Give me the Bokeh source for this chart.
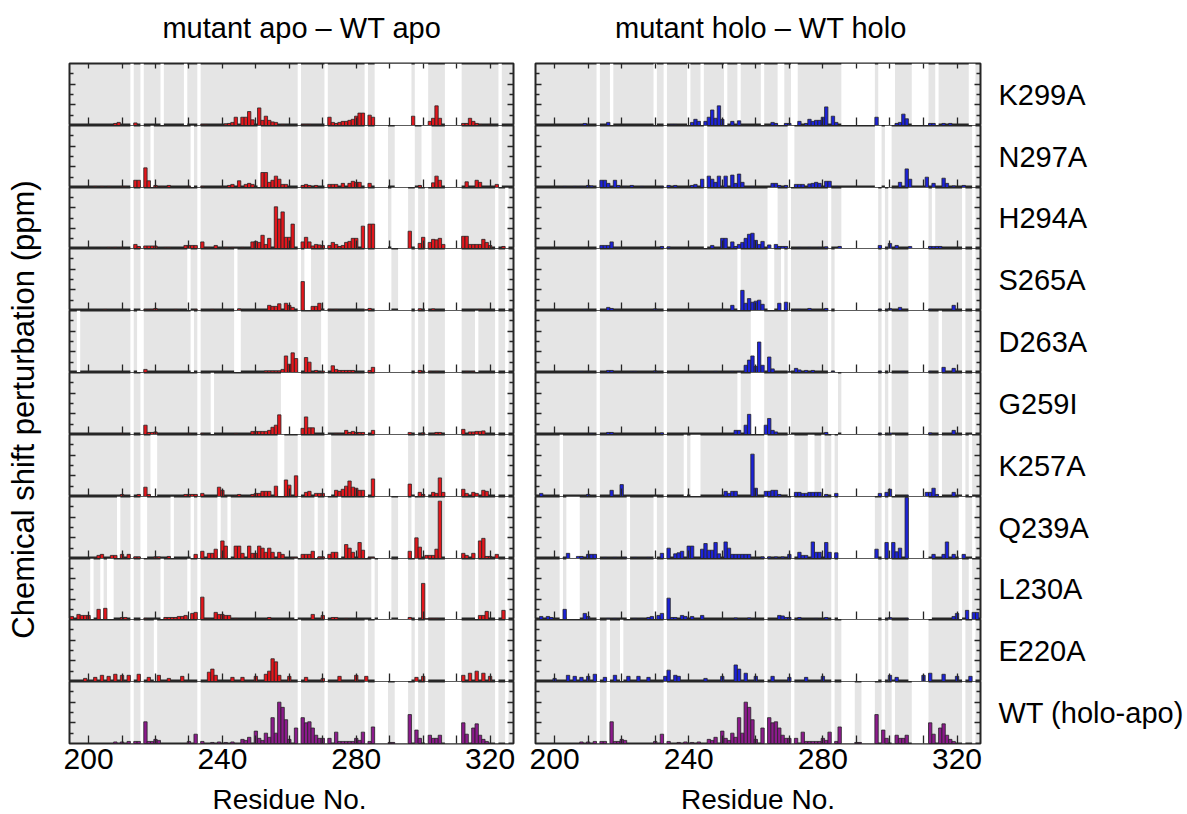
from bokeh.plotting import figure
from bokeh.layouts import row, column
from bokeh.models import Range1d, FixedTicker, LinearAxis, Label
from bokeh.embed import file_html
from bokeh.resources import INLINE

FONT = "Liberation Sans"
X0, X1 = 194.3, 327.0
Y1 = 0.6

ROW_NAMES = ["K299A", "N297A", "H294A", "S265A", "D263A", "G259I",
             "K257A", "Q239A", "L230A", "E220A", "WT (holo-apo)"]
COL_TITLES = ["mutant apo \u2013 WT apo", "mutant holo \u2013 WT holo"]
X_LABEL_TICKS = [200, 240, 280, 320]
X_MINOR_TICKS = [210, 220, 230, 250, 260, 270, 290, 300, 310]
Y_MAJOR = [0.2, 0.4]
Y_MINOR = [0.1, 0.3, 0.5]

# ---------------- apo differences (left column) ----------------
APO_K299A = {208: 0.02, 209: 0.03, 214: 0.025, 234: 0.01, 235: 0.01, 241: 0.015, 242: 0.02, 243: 0.03,
             244: 0.08, 246: 0.08, 247: 0.08, 248: 0.135, 249: 0.055, 251: 0.17, 252: 0.05, 253: 0.09,
             254: 0.05, 255: 0.035, 256: 0.03, 258: 0.01, 264: 0.01, 265: 0.01, 266: 0.01, 272: 0.08,
             273: 0.03, 274: 0.02, 275: 0.03, 276: 0.04, 277: 0.04, 278: 0.05, 279: 0.06, 280: 0.09,
             281: 0.12, 282: 0.12, 284: 0.1, 285: 0.08, 297: 0.09, 302: 0.04, 303: 0.07, 304: 0.19,
             305: 0.07, 312: 0.02, 313: 0.02, 314: 0.07, 315: 0.04, 316: 0.02, 317: 0.01, 320: 0.01}
APO_N297A = {202: 0.01, 204: 0.01, 206: 0.01, 210: 0.01, 211: 0.01, 214: 0.07, 215: 0.07, 217: 0.19,
             218: 0.065, 220: 0.02, 222: 0.01, 224: 0.02, 230: 0.01, 234: 0.01, 240: 0.01, 242: 0.02,
             243: 0.03, 245: 0.065, 247: 0.03, 248: 0.04, 249: 0.03, 252: 0.145, 253: 0.145, 254: 0.05,
             255: 0.07, 256: 0.11, 257: 0.08, 258: 0.03, 259: 0.03, 264: 0.02, 265: 0.03, 266: 0.02,
             268: 0.02, 272: 0.03, 273: 0.03, 274: 0.03, 276: 0.04, 278: 0.04, 279: 0.06, 280: 0.05,
             281: 0.05, 284: 0.04, 299: 0.02, 303: 0.045, 304: 0.11, 305: 0.07, 313: 0.055, 316: 0.07,
             317: 0.05, 322: 0.03}
APO_H294A = {203: 0.005, 206: 0.01, 208: 0.01, 210: 0.01, 214: 0.04, 215: 0.02, 217: 0.025, 218: 0.025,
             219: 0.025, 220: 0.025, 223: 0.01, 224: 0.01, 229: 0.03, 230: 0.03, 231: 0.03, 232: 0.03,
             234: 0.065, 235: 0.01, 236: 0.01, 238: 0.03, 241: 0.01, 243: 0.01, 246: 0.01, 249: 0.065,
             250: 0.07, 251: 0.06, 252: 0.13, 253: 0.04, 254: 0.1, 256: 0.41, 257: 0.29, 258: 0.36,
             259: 0.11, 260: 0.11, 261: 0.24, 264: 0.065, 265: 0.11, 266: 0.065, 267: 0.025, 268: 0.04,
             269: 0.035, 270: 0.03, 272: 0.03, 273: 0.06, 274: 0.04, 275: 0.02, 276: 0.03, 277: 0.06,
             278: 0.07, 279: 0.1, 280: 0.1, 282: 0.22, 284: 0.24, 285: 0.24, 296: 0.17, 299: 0.05,
             300: 0.11, 302: 0.06, 303: 0.09, 304: 0.085, 305: 0.1, 306: 0.04, 312: 0.12, 313: 0.12,
             314: 0.04, 315: 0.04, 316: 0.04, 317: 0.04, 318: 0.09, 319: 0.06, 320: 0.03, 324: 0.02}
APO_S265A = {205: 0.01, 217: 0.01, 218: 0.01, 219: 0.01, 220: 0.02, 226: 0.01, 232: 0.01, 237: 0.01,
             245: 0.015, 254: 0.05, 255: 0.04, 256: 0.04, 257: 0.065, 259: 0.07, 260: 0.05, 261: 0.03,
             264: 0.28, 267: 0.04, 268: 0.04, 269: 0.07, 272: 0.01, 274: 0.01, 283: 0.01, 284: 0.02,
             299: 0.015, 303: 0.015, 317: 0.01}
APO_D263A = {217: 0.03, 253: 0.015, 254: 0.015, 255: 0.015, 256: 0.015, 257: 0.015, 258: 0.03,
             259: 0.16, 260: 0.08, 261: 0.19, 262: 0.135, 265: 0.145, 266: 0.1, 268: 0.02, 270: 0.015,
             273: 0.065, 274: 0.03, 275: 0.02, 276: 0.02, 277: 0.02, 278: 0.02, 279: 0.02, 284: 0.02,
             285: 0.05, 299: 0.02, 300: 0.01, 302: 0.01, 304: 0.01, 313: 0.01, 315: 0.01}
APO_G259I = {210: 0.01, 217: 0.09, 218: 0.02, 219: 0.02, 220: 0.025, 230: 0.01, 234: 0.01, 244: 0.01,
             249: 0.03, 250: 0.03, 251: 0.03, 252: 0.03, 253: 0.03, 254: 0.04, 255: 0.07, 256: 0.09,
             257: 0.19, 264: 0.06, 265: 0.17, 266: 0.065, 267: 0.065, 274: 0.01, 275: 0.01, 277: 0.04,
             278: 0.02, 279: 0.03, 280: 0.02, 281: 0.02, 282: 0.02, 285: 0.04, 296: 0.02, 300: 0.015,
             303: 0.01, 304: 0.02, 305: 0.02, 312: 0.05, 314: 0.025, 315: 0.025, 316: 0.03, 317: 0.03,
             318: 0.035}
APO_K257A = {210: 0.02, 215: 0.02, 217: 0.09, 218: 0.02, 229: 0.02, 230: 0.02, 231: 0.02, 232: 0.02,
             234: 0.03, 239: 0.09, 240: 0.06, 244: 0.01, 245: 0.02, 249: 0.02, 250: 0.03, 251: 0.03,
             252: 0.05, 253: 0.05, 254: 0.05, 256: 0.1, 259: 0.16, 260: 0.11, 262: 0.2, 265: 0.04,
             266: 0.05, 268: 0.03, 269: 0.03, 270: 0.03, 274: 0.06, 275: 0.05, 276: 0.07, 277: 0.1,
             278: 0.15, 279: 0.09, 280: 0.08, 281: 0.06, 282: 0.06, 285: 0.17, 296: 0.12, 299: 0.04,
             300: 0.02, 303: 0.04, 304: 0.03, 305: 0.18, 306: 0.04, 312: 0.07, 313: 0.03, 315: 0.04,
             316: 0.03, 318: 0.06, 319: 0.05}
APO_Q239A = {202: 0.01, 203: 0.03, 204: 0.04, 207: 0.03, 208: 0.03, 210: 0.04, 212: 0.04, 214: 0.015,
             215: 0.015, 220: 0.015, 221: 0.015, 224: 0.02, 232: 0.04, 234: 0.07, 236: 0.05, 237: 0.05,
             238: 0.09, 240: 0.17, 241: 0.12, 244: 0.12, 245: 0.12, 246: 0.05, 248: 0.12, 249: 0.05,
             250: 0.05, 251: 0.12, 252: 0.1, 253: 0.06, 254: 0.1, 255: 0.06, 257: 0.06, 258: 0.04,
             261: 0.01, 262: 0.01, 264: 0.04, 265: 0.04, 266: 0.04, 267: 0.07, 269: 0.015, 270: 0.015,
             272: 0.04, 273: 0.06, 274: 0.06, 277: 0.135, 278: 0.1, 279: 0.06, 281: 0.155, 282: 0.08,
             284: 0.01, 285: 0.01, 296: 0.07, 298: 0.2, 299: 0.11, 301: 0.03, 302: 0.03, 303: 0.03,
             304: 0.09, 305: 0.555, 312: 0.05, 313: 0.03, 315: 0.05, 317: 0.17, 318: 0.195, 319: 0.02,
             320: 0.02, 322: 0.04}
APO_L230A = {195: 0.03, 197: 0.05, 198: 0.04, 199: 0.04, 200: 0.04, 203: 0.1, 205: 0.11, 210: 0.02,
             211: 0.02, 217: 0.01, 223: 0.02, 224: 0.02, 225: 0.02, 226: 0.02, 227: 0.03, 228: 0.03,
             229: 0.04, 231: 0.06, 232: 0.07, 234: 0.22, 235: 0.01, 236: 0.01, 238: 0.07, 239: 0.05,
             240: 0.05, 241: 0.04, 242: 0.04, 244: 0.01, 254: 0.02, 267: 0.05, 270: 0.04, 273: 0.02,
             274: 0.02, 277: 0.01, 296: 0.02, 300: 0.355, 301: 0.01, 302: 0.01, 303: 0.01, 304: 0.01,
             317: 0.04, 318: 0.04, 319: 0.08, 324: 0.09}
APO_E220A = {199: 0.03, 202: 0.04, 204: 0.06, 206: 0.05, 208: 0.07, 210: 0.06, 212: 0.06, 215: 0.07,
             218: 0.04, 221: 0.06, 224: 0.03, 228: 0.05, 236: 0.09, 237: 0.12, 238: 0.06, 243: 0.04,
             246: 0.04, 250: 0.05, 253: 0.07, 254: 0.1, 255: 0.22, 256: 0.19, 257: 0.06, 260: 0.05,
             265: 0.04, 270: 0.03, 275: 0.05, 280: 0.06, 283: 0.05, 298: 0.04, 300: 0.05, 312: 0.06,
             314: 0.08, 316: 0.1, 318: 0.08, 320: 0.05}
WT_HOLO_APO = {208: 0.015, 210: 0.015, 212: 0.02, 214: 0.02, 215: 0.02, 217: 0.21, 218: 0.02, 219: 0.02,
               220: 0.04, 221: 0.03, 230: 0.02, 232: 0.09, 234: 0.02, 237: 0.01, 239: 0.015, 241: 0.01,
               243: 0.015, 246: 0.04, 247: 0.03, 248: 0.06, 250: 0.12, 251: 0.05, 252: 0.03, 253: 0.1,
               254: 0.06, 255: 0.25, 256: 0.1, 257: 0.4, 258: 0.35, 259: 0.23, 260: 0.04, 262: 0.15,
               264: 0.25, 265: 0.2, 266: 0.21, 267: 0.15, 268: 0.08, 269: 0.05, 270: 0.05, 272: 0.05,
               274: 0.11, 275: 0.02, 276: 0.02, 277: 0.02, 278: 0.02, 279: 0.02, 280: 0.05, 281: 0.03,
               282: 0.11, 284: 0.02, 285: 0.16, 290: 0.01, 291: 0.01, 296: 0.28, 298: 0.13, 299: 0.05,
               302: 0.08, 303: 0.05, 304: 0.05, 305: 0.08, 312: 0.2, 313: 0.09, 315: 0.15, 316: 0.19,
               317: 0.08, 318: 0.04, 319: 0.02}

# ---------------- holo differences (right column) ----------------
HOLO_K299A = {208: 0.01, 209: 0.02, 210: 0.01, 216: 0.03, 229: 0.005, 235: 0.01, 236: 0.01, 241: 0.03,
              242: 0.06, 243: 0.04, 245: 0.04, 246: 0.08, 247: 0.15, 248: 0.07, 249: 0.19, 250: 0.06,
              253: 0.04, 255: 0.045, 265: 0.03, 266: 0.02, 269: 0.02, 270: 0.02, 273: 0.04, 275: 0.02,
              276: 0.06, 277: 0.04, 278: 0.05, 279: 0.05, 280: 0.08, 281: 0.18, 283: 0.09, 284: 0.03,
              296: 0.08, 302: 0.02, 303: 0.03, 304: 0.11, 305: 0.065, 312: 0.02, 313: 0.02, 316: 0.02,
              318: 0.02}
HOLO_N297A = {203: 0.01, 206: 0.01, 208: 0.01, 210: 0.02, 211: 0.015, 214: 0.07, 215: 0.07, 216: 0.04,
              218: 0.07, 219: 0.02, 221: 0.01, 223: 0.02, 226: 0.01, 232: 0.01, 234: 0.02, 236: 0.02,
              241: 0.02, 242: 0.03, 244: 0.08, 246: 0.11, 247: 0.08, 248: 0.05, 249: 0.11, 251: 0.11,
              253: 0.12, 254: 0.04, 255: 0.13, 256: 0.05, 259: 0.01, 265: 0.04, 266: 0.04, 267: 0.02,
              269: 0.02, 272: 0.03, 273: 0.03, 274: 0.03, 276: 0.035, 277: 0.04, 278: 0.05, 279: 0.04,
              281: 0.06, 282: 0.06, 284: 0.01, 303: 0.05, 305: 0.18, 306: 0.08, 311: 0.1, 313: 0.04,
              316: 0.09, 317: 0.04, 319: 0.015, 322: 0.02}
HOLO_H294A = {214: 0.03, 215: 0.03, 216: 0.03, 217: 0.065, 218: 0.01, 219: 0.01, 232: 0.02, 234: 0.015,
              247: 0.03, 250: 0.1, 251: 0.1, 253: 0.065, 254: 0.02, 255: 0.04, 256: 0.06, 257: 0.1,
              258: 0.14, 259: 0.15, 260: 0.08, 261: 0.04, 262: 0.07, 264: 0.035, 266: 0.04, 267: 0.02,
              268: 0.02, 269: 0.02, 273: 0.01, 276: 0.01, 279: 0.01, 281: 0.015, 285: 0.02, 297: 0.03,
              300: 0.05, 302: 0.03, 306: 0.02, 312: 0.02, 313: 0.02, 314: 0.02, 315: 0.02}
HOLO_S265A = {209: 0.01, 216: 0.03, 217: 0.02, 230: 0.015, 250: 0.01, 253: 0.05, 256: 0.195, 257: 0.07,
              258: 0.115, 259: 0.08, 260: 0.09, 261: 0.1, 262: 0.06, 267: 0.07, 269: 0.08, 272: 0.01,
              273: 0.01, 276: 0.02, 281: 0.02, 297: 0.01, 300: 0.02, 303: 0.03, 312: 0.01, 319: 0.05}
HOLO_D263A = {208: 0.01, 210: 0.01, 216: 0.02, 217: 0.02, 223: 0.01, 224: 0.01, 230: 0.015, 243: 0.01,
              248: 0.01, 253: 0.01, 255: 0.01, 257: 0.07, 258: 0.12, 259: 0.16, 260: 0.06, 261: 0.295,
              262: 0.07, 264: 0.15, 265: 0.035, 270: 0.01, 272: 0.04, 273: 0.025, 275: 0.02, 277: 0.02,
              283: 0.01, 297: 0.01, 304: 0.01, 312: 0.01, 316: 0.05, 319: 0.04}
HOLO_G259I = {211: 0.01, 216: 0.02, 217: 0.02, 232: 0.015, 254: 0.04, 255: 0.04, 257: 0.09, 258: 0.195,
              263: 0.09, 264: 0.155, 265: 0.04, 266: 0.025, 281: 0.02, 297: 0.01, 300: 0.015, 312: 0.015,
              319: 0.04}
HOLO_K257A = {196: 0.03, 210: 0.02, 217: 0.06, 220: 0.115, 251: 0.05, 252: 0.03, 253: 0.05, 254: 0.05,
              259: 0.41, 260: 0.08, 263: 0.05, 264: 0.05, 265: 0.06, 266: 0.06, 267: 0.02, 272: 0.04,
              273: 0.04, 274: 0.03, 275: 0.03, 276: 0.04, 277: 0.04, 278: 0.04, 279: 0.04, 281: 0.02,
              284: 0.03, 297: 0.03, 299: 0.04, 300: 0.07, 305: 0.01, 311: 0.04, 312: 0.04, 313: 0.08,
              314: 0.02, 319: 0.04}
HOLO_Q239A = {203: 0.01, 204: 0.05, 207: 0.02, 208: 0.02, 210: 0.04, 211: 0.04, 212: 0.04, 215: 0.01,
              218: 0.01, 221: 0.01, 224: 0.01, 228: 0.01, 232: 0.05, 234: 0.1, 236: 0.045, 237: 0.055,
              238: 0.07, 240: 0.12, 241: 0.12, 244: 0.09, 245: 0.145, 246: 0.08, 247: 0.08, 248: 0.155,
              249: 0.045, 251: 0.16, 252: 0.1, 253: 0.04, 254: 0.04, 255: 0.04, 256: 0.04, 257: 0.04,
              258: 0.04, 262: 0.015, 264: 0.015, 266: 0.015, 268: 0.015, 270: 0.04, 273: 0.06, 274: 0.03,
              275: 0.03, 277: 0.16, 278: 0.06, 279: 0.06, 281: 0.155, 282: 0.06, 284: 0.055, 296: 0.09,
              299: 0.155, 301: 0.155, 302: 0.065, 303: 0.1, 305: 0.59, 313: 0.04, 316: 0.04, 317: 0.16,
              319: 0.04, 322: 0.04}
HOLO_L230A = {196: 0.03, 198: 0.03, 199: 0.02, 203: 0.1, 209: 0.06, 210: 0.03, 216: 0.01, 218: 0.01,
              224: 0.01, 226: 0.01, 228: 0.02, 229: 0.03, 231: 0.04, 232: 0.06, 234: 0.21, 235: 0.02,
              236: 0.02, 238: 0.04, 239: 0.03, 241: 0.03, 244: 0.04, 254: 0.015, 258: 0.015, 267: 0.04,
              268: 0.035, 269: 0.02, 270: 0.02, 273: 0.02, 278: 0.01, 281: 0.02, 300: 0.02, 305: 0.01,
              319: 0.03, 320: 0.06, 323: 0.09, 325: 0.07, 326: 0.07}
HOLO_E220A = {200: 0.03, 204: 0.06, 206: 0.05, 208: 0.04, 210: 0.05, 212: 0.07, 215: 0.04, 218: 0.06,
              222: 0.05, 225: 0.05, 228: 0.04, 233: 0.05, 234: 0.11, 236: 0.06, 237: 0.05, 245: 0.03,
              250: 0.05, 254: 0.16, 255: 0.12, 257: 0.08, 260: 0.05, 265: 0.05, 270: 0.04, 275: 0.04,
              280: 0.05, 300: 0.06, 302: 0.04, 310: 0.06, 312: 0.08, 316: 0.07, 320: 0.05, 324: 0.05}

# white (unshaded) residue ranges of each panel
GAPS_APO = [
    [(213, 213), (216, 216), (222, 222), (229, 229), (233, 233), (263, 263), (271, 271), (283, 283),
     (286, 296), (298, 301), (307, 311), (323, 323)],
    [(213, 213), (216, 216), (219, 219), (231, 231), (233, 233), (251, 251), (263, 263), (271, 271),
     (283, 283), (286, 289), (292, 297), (300, 302), (307, 311), (323, 323)],
    [(213, 213), (216, 216), (233, 233), (263, 263), (271, 271), (283, 283), (286, 289), (291, 295),
     (298, 298), (301, 301), (307, 311), (322, 322), (325, 325)],
    [(213, 213), (216, 216), (230, 230), (233, 233), (244, 244), (263, 263), (265, 266), (271, 271),
     (283, 283), (286, 290), (293, 296), (298, 298), (301, 301), (307, 311), (322, 322), (325, 325)],
    [(197, 197), (213, 213), (215, 216), (231, 231), (233, 233), (244, 245), (263, 263), (270, 271),
     (283, 283), (286, 296), (298, 298), (301, 301), (307, 311), (316, 316), (322, 322), (325, 325)],
    [(213, 213), (216, 216), (233, 233), (237, 237), (258, 263), (271, 271), (283, 283), (286, 296),
     (298, 298), (301, 301), (307, 311), (322, 322), (325, 325)],
    [(213, 213), (216, 216), (219, 220), (233, 233), (257, 258), (263, 263), (271, 272), (283, 283),
     (286, 295), (298, 298), (301, 301), (307, 311), (316, 316), (322, 322), (325, 325)],
    [(209, 209), (213, 213), (216, 217), (225, 225), (231, 231), (233, 233), (239, 239), (242, 242),
     (263, 263), (268, 268), (271, 271), (275, 275), (283, 283), (286, 290), (293, 295), (297, 297),
     (301, 301), (307, 311), (316, 316), (322, 322), (325, 325)],
    [(201, 201), (204, 204), (206, 207), (213, 213), (216, 216), (222, 222), (230, 230), (233, 233),
     (262, 262), (271, 271), (285, 285), (287, 290), (293, 295), (298, 298), (301, 301), (307, 311),
     (316, 316), (322, 322), (325, 325)],
    [(213, 213), (216, 216), (220, 220), (233, 233), (263, 263), (271, 271), (283, 283), (286, 296),
     (298, 298), (301, 301), (307, 311), (322, 322), (325, 325)],
    [(213, 213), (216, 216), (233, 233), (263, 263), (271, 271), (283, 283), (286, 289), (292, 295),
     (298, 298), (301, 301), (307, 311), (322, 322), (325, 325)],
]
GAPS_HOLO = [
    [(213, 213), (217, 217), (230, 230), (233, 233), (240, 240), (244, 244), (251, 251), (255, 255),
     (262, 262), (267, 268), (271, 272), (286, 295), (297, 301), (307, 311), (314, 314), (324, 325)],
    [(213, 213), (233, 233), (245, 245), (270, 271), (296, 297), (299, 300), (325, 325)],
    [(213, 213), (233, 233), (245, 245), (264, 266), (270, 270), (282, 282), (286, 296), (298, 298),
     (300, 300), (306, 311), (313, 313), (322, 322), (325, 325)],
    [(213, 213), (233, 233), (255, 255), (264, 265), (268, 268), (270, 270), (282, 282), (284, 296),
     (298, 298), (300, 300), (306, 311), (322, 322), (325, 325)],
    [(213, 213), (233, 233), (259, 262), (270, 270), (282, 282), (284, 296), (298, 298), (300, 300),
     (306, 311), (315, 315), (322, 322), (325, 325)],
    [(213, 213), (233, 233), (255, 255), (259, 262), (270, 270), (282, 284), (286, 296), (298, 298),
     (300, 300), (306, 311), (315, 315), (322, 322), (325, 325)],
    [(202, 202), (213, 213), (233, 233), (239, 239), (241, 243), (263, 263), (270, 271), (276, 277),
     (280, 280), (283, 283), (285, 296), (298, 298), (301, 301), (306, 311), (315, 315), (322, 322),
     (324, 324)],
    [(202, 202), (204, 207), (213, 213), (222, 222), (230, 230), (233, 233), (263, 263), (271, 271),
     (283, 283), (285, 295), (298, 298), (300, 300), (306, 311), (321, 322), (325, 325)],
    [(202, 202), (204, 207), (213, 213), (222, 222), (230, 230), (233, 233), (263, 263), (271, 271),
     (283, 283), (285, 296), (298, 298), (300, 300), (306, 312), (321, 321), (324, 324)],
    [(213, 213), (216, 216), (220, 220), (233, 233), (263, 263), (271, 271), (283, 283), (286, 296),
     (298, 298), (300, 300), (306, 311), (322, 322), (325, 325)],
    [(213, 213), (216, 216), (233, 233), (263, 263), (271, 271), (283, 283), (286, 289), (292, 295),
     (298, 298), (301, 301), (307, 311), (322, 322), (325, 325)],
]

APO_SERIES = [APO_K299A, APO_N297A, APO_H294A, APO_S265A, APO_D263A, APO_G259I,
              APO_K257A, APO_Q239A, APO_L230A, APO_E220A, WT_HOLO_APO]
HOLO_SERIES = [HOLO_K299A, HOLO_N297A, HOLO_H294A, HOLO_S265A, HOLO_D263A, HOLO_G259I,
               HOLO_K257A, HOLO_Q239A, HOLO_L230A, HOLO_E220A, WT_HOLO_APO]

RED = "#e3161c"
BLUE = "#1c22d8"
PURPLE = "#8c1a8c"
GRAY = "#e5e5e5"
EDGE = "#262626"

# layout (pixels)
PANEL_H = [62, 62, 61, 62, 62, 62, 62, 62, 61, 62, 62]
TITLE_H = 62
TOP_B = 1
TICKLAB_B = 39
RES_H = 32
YLAB_W = 54
COL_W = [(15, 444, 11), (11, 445, 2)]
ROWLAB_W = 203
TOTAL_H = TITLE_H + TOP_B + sum(PANEL_H) + TICKLAB_B + RES_H


def text_fig(w, h):
    f = figure(width=w, height=h, x_range=Range1d(0, w), y_range=Range1d(0, h),
               x_axis_location=None, y_axis_location=None, toolbar_location=None,
               output_backend="svg", min_border=0)
    f.grid.visible = False
    f.outline_line_color = None
    return f


def tick_axis(major, minor, tin, minor_in):
    return LinearAxis(ticker=FixedTicker(ticks=major, minor_ticks=minor),
                      major_tick_in=tin, major_tick_out=0,
                      minor_tick_in=minor_in, minor_tick_out=0,
                      major_label_text_font_size="0px", major_label_text_color=None,
                      major_label_standoff=0, axis_line_color=None,
                      major_tick_line_color=EDGE, minor_tick_line_color=EDGE,
                      major_tick_line_width=1.3, minor_tick_line_width=1.3)


def make_panel(col, i, values, gaps, color):
    top = i == 0
    bottom = i == len(PANEL_H) - 1
    fh = PANEL_H[i]
    bl, fw, br = COL_W[col]
    bt = TOP_B if top else 0
    bb = TICKLAB_B if bottom else 0
    p = figure(width=bl + fw + br, height=bt + fh + bb,
               x_range=Range1d(X0, X1), y_range=Range1d(0, Y1),
               x_axis_location=None, y_axis_location=None,
               toolbar_location=None, output_backend="svg",
               min_border_left=bl, min_border_right=br,
               min_border_top=bt, min_border_bottom=bb)
    p.grid.visible = False
    p.outline_line_color = EDGE
    p.outline_line_width = 2
    p.background_fill_color = GRAY
    p.border_fill_color = "white"

    if gaps:
        p.quad(left=[a - 0.5 for a, b in gaps], right=[b + 0.5 for a, b in gaps],
               bottom=0, top=Y1, fill_color="white", line_color=None)

    xs = sorted(values)
    p.vbar(x=xs, top=[values[r] for r in xs], bottom=0, width=1.0,
           fill_color=color, line_color=EDGE, line_width=0.8)

    p.add_layout(tick_axis(Y_MAJOR, Y_MINOR, 6, 4), "left")
    p.add_layout(tick_axis(Y_MAJOR, Y_MINOR, 6, 4), "right")

    xb = tick_axis(X_LABEL_TICKS, X_MINOR_TICKS, 8, 8)
    if bottom:
        xb.major_label_text_font_size = "30px"
        xb.major_label_text_font = FONT
        xb.major_label_text_color = "black"
        xb.major_label_standoff = 5
    p.add_layout(xb, "below")
    if top:
        p.add_layout(tick_axis(X_LABEL_TICKS, X_MINOR_TICKS, 5, 5), "above")
    return p


left = []
right = []
for i in range(len(ROW_NAMES)):
    wt = i == len(ROW_NAMES) - 1
    left.append(make_panel(0, i, APO_SERIES[i], GAPS_APO[i], PURPLE if wt else RED))
    right.append(make_panel(1, i, HOLO_SERIES[i], GAPS_HOLO[i], PURPLE if wt else BLUE))

col_w = [sum(c) for c in COL_W]
# column titles
title_pos = [246, 232]
titles = []
for c in range(2):
    t = text_fig(col_w[c], TITLE_H)
    t.add_layout(Label(x=title_pos[c], y=TITLE_H - 27, text=COL_TITLES[c], text_font=FONT,
                       text_font_size="29px", text_align="center", text_baseline="middle",
                       text_color="black"))
    titles.append(t)

# x-axis titles
res_pos = [233, 229]
res_figs = []
for c in range(2):
    t = text_fig(col_w[c], RES_H)
    t.add_layout(Label(x=res_pos[c], y=RES_H / 2 - 1, text="Residue No.", text_font=FONT,
                       text_font_size="28px", text_align="center", text_baseline="middle",
                       text_color="black"))
    res_figs.append(t)

# y-axis title
yl = text_fig(YLAB_W, TOTAL_H)
yl.add_layout(Label(x=23, y=TOTAL_H - 409, text="Chemical shift perturbation (ppm)",
                    angle=1.5707963, text_font=FONT, text_font_size="31px",
                    text_align="center", text_baseline="middle", text_color="black"))

# row labels
rl = text_fig(ROWLAB_W, TOTAL_H)
y_top = TITLE_H + TOP_B
for i, name in enumerate(ROW_NAMES):
    yc = y_top + sum(PANEL_H[:i]) + PANEL_H[i] / 2
    rl.add_layout(Label(x=16, y=TOTAL_H - yc, text=name, text_font=FONT, text_font_size="29px",
                        text_align="left", text_baseline="middle", text_color="black"))

layout = row(yl,
             column(titles[0], *left, res_figs[0]),
             column(titles[1], *right, res_figs[1]),
             rl)
open("out.html", "w").write(file_html(layout, INLINE))
